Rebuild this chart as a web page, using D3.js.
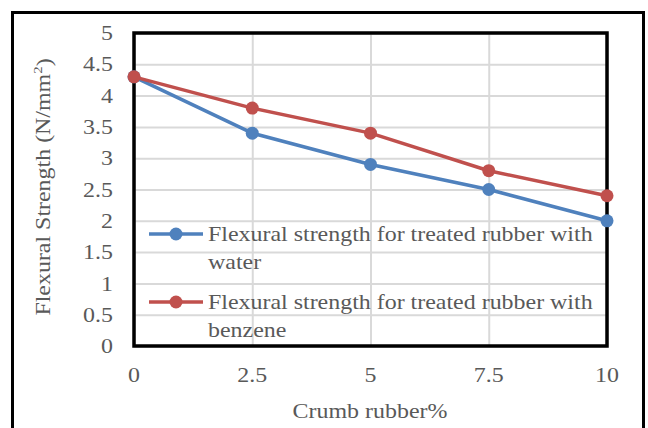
<!DOCTYPE html>
<html>
<head>
<meta charset="utf-8">
<script src="https://cdn.jsdelivr.net/npm/d3@7"></script>
<style>
  html, body { margin: 0; padding: 0; background: #fff; }
  svg { display: block; }
  text { font-family: "Liberation Serif", "Times New Roman", serif; fill: #595959; }
</style>
</head>
<body>
<svg id="chart" width="648" height="428"></svg>
<script>
// Crumb rubber content (%) and flexural strength (N/mm²)
const rubberPct = [0, 2.5, 5, 7.5, 10];
const waterStrength = [4.3, 3.4, 2.9, 2.5, 2.0];
const benzeneStrength = [4.3, 3.8, 3.4, 2.8, 2.4];
const xTicks = [0, 2.5, 5, 7.5, 10];
const yTicks = [0, 0.5, 1, 1.5, 2, 2.5, 3, 3.5, 4, 4.5, 5];
const seriesNames = [
  ["Flexural strength for treated rubber with", "water"],
  ["Flexural strength for treated rubber with", "benzene"]
];
const seriesColors = ["#4F81BD", "#C0504D"];

const svg = d3.select("#chart");
const FS = 21, SX = 1.14;   // font size and horizontal glyph stretch

const plot = { left: 134, right: 607, top: 33, bottom: 346 };
const x = d3.scaleLinear().domain([0, 10]).range([plot.left, plot.right]);
const y = d3.scaleLinear().domain([0, 5]).range([plot.bottom, plot.top]);

// outer frame
svg.append("rect")
  .attr("x", 12.5).attr("y", 12.5).attr("width", 631).attr("height", 430)
  .attr("fill", "#fff").attr("stroke", "#000").attr("stroke-width", 3);

// gridlines via axes
svg.append("g")
  .attr("transform", `translate(${plot.left},0)`)
  .call(d3.axisLeft(y).tickValues(yTicks).tickSize(-(plot.right - plot.left)).tickFormat(""))
  .call(g => g.select(".domain").remove())
  .call(g => g.selectAll("line").attr("stroke", "#d9d9d9").attr("stroke-width", 2));
svg.append("g")
  .attr("transform", `translate(0,${plot.bottom})`)
  .call(d3.axisBottom(x).tickValues(xTicks).tickSize(-(plot.bottom - plot.top)).tickFormat(""))
  .call(g => g.select(".domain").remove())
  .call(g => g.selectAll("line").attr("stroke", "#d9d9d9").attr("stroke-width", 2));

// plot border
svg.append("rect")
  .attr("x", plot.left).attr("y", plot.top)
  .attr("width", plot.right - plot.left).attr("height", plot.bottom - plot.top)
  .attr("fill", "none").attr("stroke", "#000").attr("stroke-width", 3.5);

function label(px, py, str, anchor, rot) {
  const t = svg.append("text")
    .attr("transform", `translate(${px},${py})${rot ? ` rotate(${rot})` : ""} scale(${SX},1)`)
    .attr("text-anchor", anchor)
    .attr("font-size", FS);
  return t.text(str);
}

// tick labels
yTicks.forEach(v => label(113, y(v), d3.format("")(v), "end").attr("dy", "0.34em"));
xTicks.forEach(v => label(x(v), 382, d3.format("")(v), "middle"));

// axis titles
label(370, 418, "Crumb rubber%", "middle");
const yt = label(50, 187, "Flexural Strength (N/mm", "middle", -90);
yt.append("tspan").attr("font-size", 13).attr("dy", "-0.6em").text("2");
yt.append("tspan").attr("dy", "0.4em").text(")");

// series lines and markers
const line = d3.line().x((d, i) => x(rubberPct[i])).y(d => y(d));
[waterStrength, benzeneStrength].forEach((vals, s) => {
  svg.append("path").datum(vals)
    .attr("d", line).attr("fill", "none")
    .attr("stroke", seriesColors[s]).attr("stroke-width", 3.5)
    .attr("stroke-linejoin", "round");
  svg.selectAll(null).data(vals).enter().append("circle")
    .attr("cx", (d, i) => x(rubberPct[i])).attr("cy", d => y(d))
    .attr("r", 6.5).attr("fill", seriesColors[s]);
});

// legend
const legendY = [234, 302];
seriesNames.forEach((lines, s) => {
  const ly = legendY[s];
  svg.append("line").attr("x1", 149).attr("x2", 203).attr("y1", ly).attr("y2", ly)
    .attr("stroke", seriesColors[s]).attr("stroke-width", 3.5);
  svg.append("circle").attr("cx", 176).attr("cy", ly).attr("r", 6.5).attr("fill", seriesColors[s]);
  label(208, ly + 7, lines[0], "start");
  label(208, ly + 35, lines[1], "start");
});
</script>
</body>
</html>
